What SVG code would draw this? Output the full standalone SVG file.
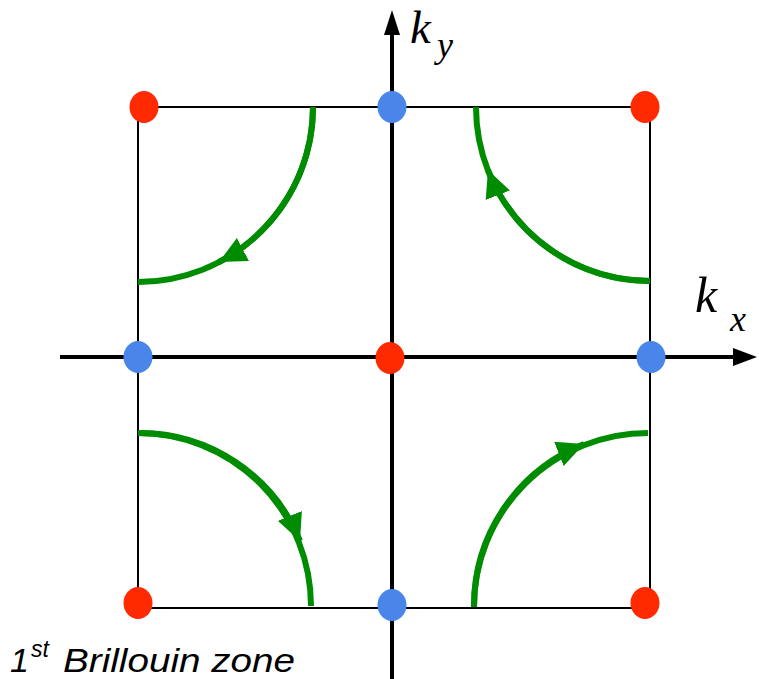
<svg xmlns="http://www.w3.org/2000/svg" width="759" height="679" viewBox="0 0 759 679">
<style>
.zone{fill:none;stroke:#000;stroke-width:2}
.axis{stroke:#000;stroke-width:4;fill:none}
.head{fill:#000}
.flow{fill:none;stroke:#008c00;stroke-width:6}
.red{fill:#ff2a00}
.blue{fill:#4a86ea}
.math{font-family:"Liberation Serif","DejaVu Serif",serif;font-style:italic;fill:#000}
.cap{font-family:"Liberation Sans",Arial,sans-serif;font-style:italic;fill:#000}
</style>
<defs>
<marker id="ah" markerUnits="userSpaceOnUse" markerWidth="29" markerHeight="26" refX="27" refY="13" orient="auto" viewBox="0 0 29 26">
<path d="M0,0 L27,13 L0,26 z" fill="#008c00"/>
</marker>
</defs>
<g id="zone">
<rect class="zone" x="138" y="107" width="512" height="501"/>
</g>
<g id="axes">
<line class="axis" x1="392" y1="30" x2="392" y2="679"/>
<polygon class="head" points="392,10 384,35 400,35"/>
<line class="axis" x1="60" y1="357" x2="738" y2="357"/>
<polygon class="head" points="757,357 733,348 733,366"/>
</g>
<g id="connectors">
<path class="flow" d="M313,107 A175,175 0 0 1 138,282"/>
<path class="flow" d="M313,107 A175,175 0 0 1 219,262" marker-end="url(#ah)"/>
<path class="flow" d="M650,281 A174,174 0 0 1 476,107"/>
<path class="flow" d="M650,281 A174,174 0 0 1 488,170" marker-end="url(#ah)"/>
<path class="flow" d="M138,433 A173,173 0 0 1 311,606"/>
<path class="flow" d="M138,433 A173,173 0 0 1 300,541" marker-end="url(#ah)"/>
<path class="flow" d="M474,607 A174,174 0 0 1 648,433"/>
<path class="flow" d="M474,607 A174,174 0 0 1 584,444" marker-end="url(#ah)"/>
</g>
<g id="points">
<ellipse class="red" cx="144" cy="107" rx="14.5" ry="16"/>
<ellipse class="red" cx="645" cy="107" rx="14.5" ry="16"/>
<ellipse class="red" cx="138" cy="603" rx="14.5" ry="16"/>
<ellipse class="red" cx="645" cy="603" rx="14.5" ry="16"/>
<ellipse class="red" cx="390" cy="358" rx="14.5" ry="16"/>
<ellipse class="blue" cx="392" cy="107" rx="14.5" ry="16"/>
<ellipse class="blue" cx="138" cy="357" rx="14.5" ry="16"/>
<ellipse class="blue" cx="651" cy="357" rx="14.5" ry="16"/>
<ellipse class="blue" cx="392" cy="605" rx="14.5" ry="16"/>
</g>
<g id="labels">
<text class="math" x="410" y="43" font-size="47">k<tspan font-size="36" x="437" y="57">y</tspan></text>
<text class="math" x="695" y="312" font-size="50">k<tspan font-size="36" x="730" y="331">x</tspan></text>
<text class="cap" x="10" y="672" font-size="34">1<tspan font-size="23" x="31" y="657">st</tspan><tspan x="63" y="672" textLength="232" lengthAdjust="spacingAndGlyphs">Brillouin zone</tspan></text>
</g>
</svg>
